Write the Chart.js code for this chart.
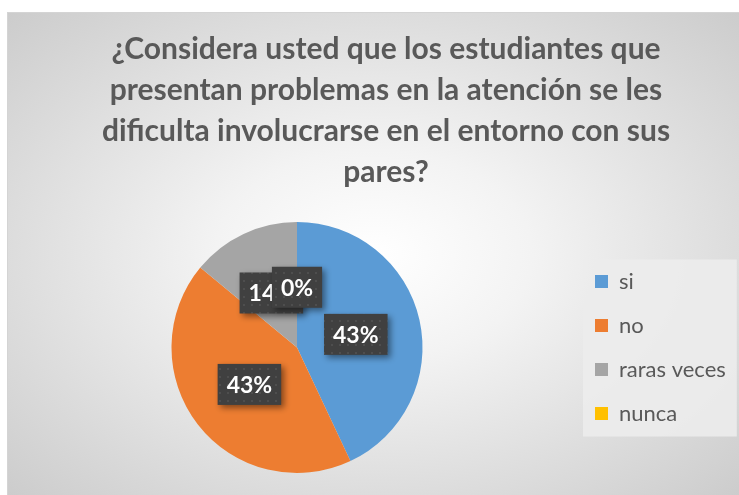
<!DOCTYPE html>
<html>
<head>
<meta charset="utf-8">
<script src="https://cdn.jsdelivr.net/npm/chart.js@4/dist/chart.umd.min.js"></script>
<style>
  html, body { margin: 0; padding: 0; background: #fff; overflow: hidden; }
  #frame {
    position: absolute; left: 7px; top: 12px; width: 732px; height: 483px;
    overflow: hidden;
    border-top: 1px solid #d4d4d4; border-left: 1px solid #d4d4d4;
    background: radial-gradient(ellipse 72% 72% at 50% 50%, #ffffff 0%, #f3f3f3 30%, #dcdcdc 70%, #cbcbcb 100%);
  }
  #wrap { position: absolute; left: 0; top: 0; width: 747px; height: 483px; }
</style>
</head>
<body>
<div id="frame"><div id="wrap"><canvas id="pie"></canvas></div></div>
<script>
const titleLines = [
  "¿Considera usted que los estudiantes que",
  "presentan problemas en la atención se les",
  "dificulta involucrarse en el entorno con sus",
  "pares?"
];
const categories = ["si", "no", "raras veces", "nunca"];
const percentages = [43, 43, 14, 0];
const sliceColors = ["#5B9BD5", "#ED7D31", "#A5A5A5", "#FFC000"];

const FONT = "Lato, 'Open Sans', sans-serif";

// dotted dark fill used by the excel style data labels
function makeDots() {
  const c = document.createElement("canvas");
  c.width = 8; c.height = 8;
  const g = c.getContext("2d");
  g.fillStyle = "#404040";
  g.fillRect(0, 0, 8, 8);
  g.fillStyle = "#4e4e4e";
  g.fillRect(3, 3, 2, 2);
  return c;
}

const boxLabels = {
  id: "boxLabels",
  afterDatasetsDraw(chart) {
    const ctx = chart.ctx;
    const pattern = ctx.createPattern(makeDots(), "repeat");
    const meta = chart.getDatasetMeta(0);
    ctx.save();
    ctx.font = "bold 23px " + FONT;
    ctx.textAlign = "center";
    ctx.textBaseline = "middle";
    meta.data.forEach((arc, i) => {
      const p = arc.getProps(["x", "y", "startAngle", "endAngle", "outerRadius"], true);
      const mid = (p.startAngle + p.endAngle) / 2;
      const r = p.outerRadius * 0.48;
      const cx = p.x + Math.cos(mid) * r;
      const cy = p.y + Math.sin(mid) * r;
      const txt = percentages[i] + "%";
      const w = ctx.measureText(txt).width + 18;
      const h = 41;
      ctx.shadowColor = "rgba(0,0,0,0.45)";
      ctx.shadowBlur = 6;
      ctx.shadowOffsetX = 3;
      ctx.shadowOffsetY = 3;
      ctx.fillStyle = pattern;
      ctx.fillRect(cx - w / 2, cy - h / 2, w, h);
      ctx.shadowColor = "transparent";
      ctx.fillStyle = "#ffffff";
      ctx.fillText(txt, cx, cy + 1);
    });
    ctx.restore();
  }
};

// fixed legend column width, plus the pale panel behind the legend entries
const legendPanel = {
  id: "legendPanel",
  beforeInit(chart) {
    const fit = chart.legend.fit;
    chart.legend.fit = function () {
      fit.call(this);
      this.width = 178;
    };
  },
  beforeDraw(chart) {
    const boxes = chart.legend && chart.legend.legendHitBoxes;
    if (!boxes || !boxes.length) return;
    const first = boxes[0], last = boxes[boxes.length - 1];
    const right = Math.max(...boxes.map(b => b.left + b.width));
    const x0 = first.left - 12, y0 = first.top - 11;
    const ctx = chart.ctx;
    ctx.save();
    ctx.fillStyle = "rgba(236,236,236,0.9)";
    ctx.fillRect(x0, y0, right + 11 - x0, last.top + 34 - y0);
    ctx.restore();
  }
};

new Chart(document.getElementById("pie"), {
  type: "pie",
  data: {
    labels: categories,
    datasets: [{
      data: percentages,
      backgroundColor: sliceColors,
      borderWidth: 0
    }]
  },
  options: {
    responsive: true,
    maintainAspectRatio: false,
    animation: false,
    layout: { padding: { left: 13, right: 4, top: 0, bottom: 23 } },
    plugins: {
      title: {
        display: true,
        text: titleLines,
        color: "#595959",
        font: { family: FONT, size: 30, weight: "bold", lineHeight: 41 / 30 },
        padding: { top: 16, bottom: 29 }
      },
      legend: {
        position: "right",
        fullSize: false,
        labels: {
          boxWidth: 13,
          boxHeight: 13,
          padding: 22,
          color: "#595959",
          font: { family: FONT, size: 22 }
        }
      },
      tooltip: { enabled: false }
    }
  },
  plugins: [boxLabels, legendPanel]
});
</script>
</body>
</html>
